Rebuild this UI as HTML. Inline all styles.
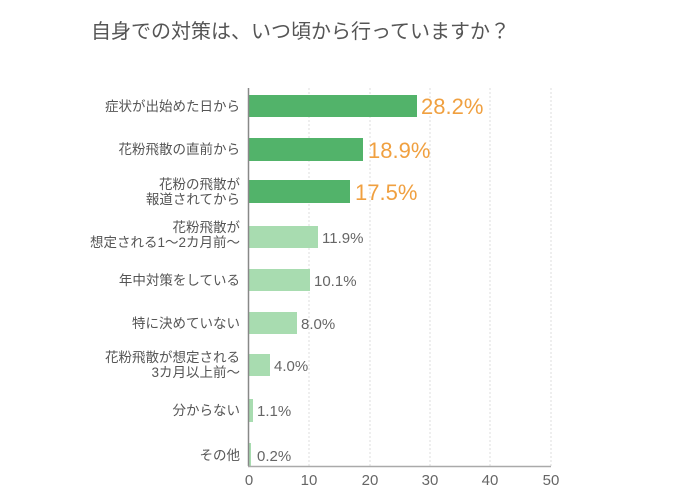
<!DOCTYPE html>
<html><head><meta charset="utf-8"><style>
body{margin:0;background:#fff;}
svg text{font-family:"Liberation Sans","Noto Sans CJK JP",sans-serif;}
</style></head><body>
<svg width="700" height="498" viewBox="0 0 700 498" xmlns="http://www.w3.org/2000/svg">
<text x="91" y="38" font-size="20" fill="#555">自身での対策は、いつ頃から行っていますか？</text>
<g stroke="#ddd" stroke-dasharray="2,2" stroke-width="1">
<line x1="309" y1="88" x2="309" y2="466"/><line x1="370" y1="88" x2="370" y2="466"/>
<line x1="430" y1="88" x2="430" y2="466"/><line x1="490" y1="88" x2="490" y2="466"/>
<line x1="551" y1="88" x2="551" y2="466"/>
</g>
<g>
<rect x="249" y="95" width="168" height="22" fill="#52b36a"/>
<rect x="249" y="138" width="114" height="23" fill="#52b36a"/>
<rect x="249" y="180" width="101" height="23" fill="#52b36a"/>
<rect x="249" y="226" width="69" height="22" fill="#a8dcb0"/>
<rect x="249" y="269" width="61" height="22" fill="#a8dcb0"/>
<rect x="249" y="312" width="48" height="22" fill="#a8dcb0"/>
<rect x="249" y="354" width="21" height="22" fill="#a8dcb0"/>
<rect x="249" y="399" width="4" height="23" fill="#a8dcb0"/>
<rect x="249" y="443" width="2" height="23" fill="#a8dcb0"/>
</g>
<line x1="248.5" y1="88" x2="248.5" y2="466" stroke="#888" stroke-width="1.5"/>
<line x1="248" y1="466.5" x2="551" y2="466.5" stroke="#aaa" stroke-width="1.5"/>
<g font-size="22" fill="#f0a040">
<text x="421" y="114">28.2%</text>
<text x="368" y="158">18.9%</text>
<text x="355" y="200">17.5%</text>
</g>
<g font-size="15" fill="#666">
<text x="322" y="243">11.9%</text>
<text x="314" y="286">10.1%</text>
<text x="301" y="329">8.0%</text>
<text x="274" y="371">4.0%</text>
<text x="257" y="416">1.1%</text>
<text x="257" y="461">0.2%</text>
</g>
<g font-size="13.5" fill="#555" text-anchor="end">
<text x="240" y="111">症状が出始めた日から</text>
<text x="240" y="154">花粉飛散の直前から</text>
<text x="240" y="189">花粉の飛散が</text>
<text x="240" y="204">報道されてから</text>
<text x="240" y="232">花粉飛散が</text>
<text x="240" y="247">想定される1～2カ月前～</text>
<text x="240" y="285">年中対策をしている</text>
<text x="240" y="328">特に決めていない</text>
<text x="240" y="362">花粉飛散が想定される</text>
<text x="240" y="377">3カ月以上前～</text>
<text x="240" y="415">分からない</text>
<text x="240" y="460">その他</text>
</g>
<g font-size="15" fill="#666" text-anchor="middle">
<text x="249" y="485">0</text><text x="309" y="485">10</text><text x="370" y="485">20</text>
<text x="430" y="485">30</text><text x="490" y="485">40</text><text x="551" y="485">50</text>
</g>
</svg>
</body></html>
